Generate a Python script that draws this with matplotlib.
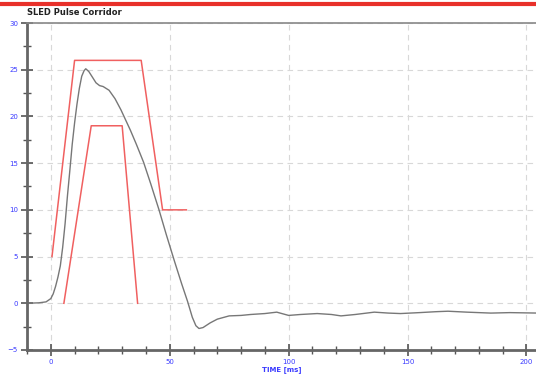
import matplotlib.pyplot as plt
from matplotlib.ticker import MultipleLocator

# SLED pulse corridor: upper and lower bounds (time ms, accel g)
upper_t = [0.5, 10, 38, 47, 57]
upper_g = [5, 26, 26, 10, 10]
lower_t = [5.5, 17, 30, 36.5]
lower_g = [0, 19, 19, 0]

# measured sled pulse
pulse_t = [-10, -5, -2, 0, 1, 2, 3, 4, 5, 6, 7, 8, 9, 10, 11, 12, 13, 14, 14.7,
           16, 17.5, 19, 20.5, 22, 24.5, 27, 29.5, 31.5, 33.5, 36, 39, 42, 45.5,
           48.5, 52, 55, 57.5, 59.5, 61, 62.3, 64, 67, 70, 75, 80, 84, 90, 95,
           100, 105, 112, 118, 122, 128, 136, 142, 147, 155, 162, 167, 175, 185,
           193, 205]
pulse_g = [0.0, 0.05, 0.15, 0.5, 1.0, 1.8, 2.8, 4.0, 6.0, 8.5, 11.5, 14.2, 17.0,
           19.3, 21.3, 23.0, 24.3, 24.9, 25.1, 24.8, 24.2, 23.6, 23.3, 23.2, 22.8,
           21.9, 20.7, 19.6, 18.5, 17.0, 15.1, 12.8, 10.0, 7.4, 4.5, 2.1, 0.2,
           -1.5, -2.4, -2.7, -2.6, -2.1, -1.7, -1.35, -1.3, -1.2, -1.1, -0.95,
           -1.3, -1.2, -1.1, -1.2, -1.35, -1.2, -0.95, -1.05, -1.1, -1.0, -0.9,
           -0.85, -0.95, -1.05, -1.0, -1.05]

fig = plt.figure(figsize=(5.36, 3.74), dpi=100)
fig.patch.set_facecolor('white')

# red header rule and title
fig.add_artist(plt.Line2D([0, 1], [0.99, 0.99], color='#e8302a', lw=3,
                          transform=fig.transFigure))
fig.text(0.05, 0.966, 'SLED Pulse Corridor', fontsize=6, fontweight='bold',
         ha='left', va='center', color='#222222')

ax = fig.add_axes([0.0504, 0.0642, 0.9496, 0.8743])
ax.set_xlim(-10, 204)
ax.set_ylim(-5, 30)

ax.plot(upper_t, upper_g, color='#f06060', lw=1.1)
ax.plot(lower_t, lower_g, color='#f06060', lw=1.1)
ax.plot(pulse_t, pulse_g, color='#777777', lw=1.0)

ax.xaxis.set_major_locator(MultipleLocator(50))
ax.xaxis.set_minor_locator(MultipleLocator(10))
ax.yaxis.set_major_locator(MultipleLocator(5))
ax.yaxis.set_minor_locator(MultipleLocator(2.5))
ax.grid(True, which='major', ls=(0, (5, 4)), color='#d8d8d8', lw=0.8)

for side in ['left', 'bottom']:
    ax.spines[side].set_color('#666666')
    ax.spines[side].set_linewidth(2)
ax.spines['top'].set_color('#888888')
ax.spines['top'].set_linewidth(1.2)
ax.spines['right'].set_visible(False)

ax.tick_params(which='major', direction='inout', length=9, width=1.2,
               color='#555555', labelsize=5, labelcolor='#3a3aff', pad=2)
ax.tick_params(which='minor', direction='inout', length=6, width=1.0,
               color='#555555')
ax.tick_params(top=False, right=False, which='both')

ax.set_xlabel('TIME [ms]', fontsize=5, fontweight='bold', color='#3a3aff',
              labelpad=1)

fig.savefig('out.png', dpi=100, facecolor='white')
